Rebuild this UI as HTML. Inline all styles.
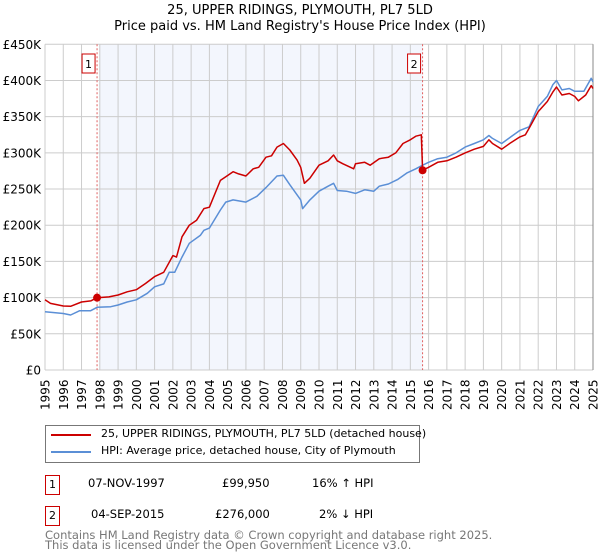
<!DOCTYPE html>
<html><head><meta charset="utf-8"><style>
body{margin:0;background:#fff;font-family:"DejaVu Sans","Liberation Sans",sans-serif;}
#wrap{position:relative;width:600px;height:560px;overflow:hidden;}
.t{position:absolute;white-space:nowrap;color:#000;}
</style></head><body>
<div id="wrap">
<svg id="chart" width="600" height="560" style="position:absolute;left:0;top:0"></svg>
</div>
<script>
const years=[1995,1996,1997,1998,1999,2000,2001,2002,2003,2004,2005,2006,2007,2008,2009,2010,2011,2012,2013,2014,2015,2016,2017,2018,2019,2020,2021,2022,2023,2024,2025];
const yTicks=[0,50000,100000,150000,200000,250000,300000,350000,400000,450000];
const yTickLabels=["£0","£50K","£100K","£150K","£200K","£250K","£300K","£350K","£400K","£450K"];
const hpiT=[1995.0,1996.0,1996.4,1996.9,1997.5,1997.85,1998.6,1999.0,1999.5,2000.0,2000.6,2001.0,2001.5,2001.8,2002.1,2002.5,2002.9,2003.5,2003.7,2004.0,2004.6,2004.9,2005.3,2006.0,2006.6,2007.1,2007.7,2008.05,2008.4,2009.0,2009.1,2009.5,2010.0,2010.5,2010.8,2011.0,2011.5,2012.0,2012.5,2013.0,2013.3,2013.8,2014.3,2014.8,2015.3,2015.67,2016.0,2016.5,2017.0,2017.5,2018.0,2018.5,2019.0,2019.3,2019.5,2020.0,2020.5,2021.0,2021.5,2022.0,2022.5,2022.8,2023.0,2023.3,2023.7,2024.0,2024.5,2024.9,2025.0];
const hpiV=[80.6,78,76,82,82,86.6,87.5,89.8,94,97,106,115,119,135,135,156,175,186,193,196,221,232,235,232,240,252,268,269,256,235,223,235,247,254,258,248,247,244,249,247,254,257,263,272,278,283,287,292,294,300,308,313,318,324,320,313,322,331,336,364,378,394,400,387,389,385,385,403,398];
const priceT=[1995.0,1995.3,1996.0,1996.4,1997.0,1997.5,1997.85,1998.5,1999.0,1999.5,2000.0,2000.5,2001.0,2001.5,2002.0,2002.2,2002.5,2002.9,2003.3,2003.7,2004.0,2004.6,2004.9,2005.3,2005.6,2006.0,2006.4,2006.7,2007.1,2007.4,2007.7,2008.05,2008.4,2008.8,2009.0,2009.2,2009.5,2010.0,2010.5,2010.8,2011.0,2011.3,2011.9,2012.0,2012.5,2012.8,2013.3,2013.8,2014.2,2014.6,2015.0,2015.3,2015.6,2015.67,2016.0,2016.5,2017.0,2017.5,2018.0,2018.5,2019.0,2019.3,2019.5,2020.0,2020.5,2021.0,2021.3,2021.5,2022.0,2022.5,2022.8,2023.0,2023.3,2023.7,2024.0,2024.2,2024.6,2024.9,2025.0];
const priceV=[97,92,88.4,88,94,95.5,99.95,101,103.6,108,111,119.5,129,135,158,156,184,200,207,223,225,262,267,274,271,268,278,280,294,296,308,313,304,290,280,258,265,283,289,297,289,285,278,285,287,283,292,294,300,313,318,323,325,276,280,287,289,294,300,305,309,318,313,305,314,322,325,334,357,371,384,391,380,382,378,372,380,393,389];
const saleT=[1997.85,2015.67];
const saleV=[99950,276000];
const saleLabels=["1","2"];

const L=45,R=593,T=44.3,B=370;
const X=y=>L+(y-1995)/30*(R-L);
const Y=v=>B-v/450000*(B-T);
const NS="http://www.w3.org/2000/svg";
const svg=document.getElementById('chart');
function mk(tag,attrs,parent){const e=document.createElementNS(NS,tag);for(const k in attrs)e.setAttribute(k,attrs[k]);(parent||svg).appendChild(e);return e;}

let e=mk('rect',{x:X(saleT[0])+2,y:T,width:X(saleT[1])-X(saleT[0])-2,height:B-T,fill:'#f3f6fd'});


years.forEach(yr=>{
  const g=mk('line',{x1:X(yr),x2:X(yr),y1:T,y2:B,stroke:'#cccccc','stroke-width':1});
  
  
  const t=mk('text',{x:0,y:0,transform:`translate(${X(yr)+4.5},${B+40}) rotate(-90)`,'font-size':12,'font-family':'DejaVu Sans, sans-serif',fill:'#000'});
  t.textContent=yr;
  
  
});
yTicks.forEach((v,i)=>{
  const g=mk('line',{x1:L,x2:R,y1:Y(v),y2:Y(v),stroke:'#cccccc','stroke-width':1});
  
  
  const t=mk('text',{x:L-4,y:Y(v)+4.5,'text-anchor':'end','font-size':12,'font-family':'DejaVu Sans, sans-serif',fill:'#000'});
  t.textContent=yTickLabels[i];
  
  
});
e=mk('line',{x1:R,x2:R,y1:T,y2:B,stroke:'#888','stroke-width':1});



saleT.forEach((s,i)=>{
  const l=mk('line',{x1:X(s),x2:X(s),y1:T,y2:B,stroke:'#e06060','stroke-width':1,'stroke-dasharray':'2,2'});
  
  
  const bx=mk('rect',{x:X(s)-15,y:54,width:13,height:19,fill:'#fff',stroke:'#cc0000','stroke-width':1});
  
  
  const t=mk('text',{x:X(s)-8.5,y:68,'text-anchor':'middle','font-size':11,'font-family':'DejaVu Sans, sans-serif'});
  t.textContent=saleLabels[i];
  
  
});

function path(ts,vs){return ts.map((t,i)=>(i?'L':'M')+X(t).toFixed(1)+','+Y(vs[i]*1000).toFixed(1)).join('');}
e=mk('path',{d:path(hpiT,hpiV),fill:'none',stroke:'#5b8fd6','stroke-width':1.5,'stroke-linejoin':'round'});


e=mk('path',{d:path(priceT,priceV),fill:'none',stroke:'#cc0000','stroke-width':1.5,'stroke-linejoin':'round'});


saleT.forEach((s,i)=>{
  const c=mk('circle',{cx:X(s),cy:Y(saleV[i]),r:4,fill:'#cc0000'});
  
  
});
</script>
<div class="t" style="left:0;width:600px;text-align:center;top:3px;font-size:13px;">25, UPPER RIDINGS, PLYMOUTH, PL7 5LD</div>
<div class="t" style="left:0;width:600px;text-align:center;top:19px;font-size:13px;">Price paid vs. HM Land Registry's House Price Index (HPI)</div>

<div style="position:absolute;left:45px;top:425px;width:373px;height:36px;border:1px solid #777;font-size:11px;">
  <div style="position:absolute;left:5px;top:8px;width:40px;height:2px;background:#cc0000"></div>
  <div class="t" style="left:55px;top:1px">25, UPPER RIDINGS, PLYMOUTH, PL7 5LD (detached house)</div>
  <div style="position:absolute;left:5px;top:25px;width:40px;height:2px;background:#5b8fd6"></div>
  <div class="t" style="left:55px;top:18px">HPI: Average price, detached house, City of Plymouth</div>
</div>

<div style="position:absolute;left:45px;top:475px;width:13px;height:18px;border:1px solid #cc0000;font-size:11px;text-align:center;line-height:17px">1</div>
<div class="t" style="left:88px;top:476px;font-size:11.5px">07-NOV-1997</div>
<div class="t" style="left:222px;top:476px;font-size:11.5px">£99,950</div>
<div class="t" style="left:312px;top:476px;font-size:11.5px">16% ↑ HPI</div>

<div style="position:absolute;left:45px;top:506px;width:13px;height:18px;border:1px solid #cc0000;font-size:11px;text-align:center;line-height:17px">2</div>
<div class="t" style="left:91px;top:507px;font-size:11.5px">04-SEP-2015</div>
<div class="t" style="left:215px;top:507px;font-size:11.5px">£276,000</div>
<div class="t" style="left:319px;top:507px;font-size:11.5px">2% ↓ HPI</div>

<div class="t" style="left:45px;top:530px;font-size:11.5px;color:#777;line-height:10px">Contains HM Land Registry data © Crown copyright and database right 2025.<br>This data is licensed under the Open Government Licence v3.0.</div>
</body></html>
